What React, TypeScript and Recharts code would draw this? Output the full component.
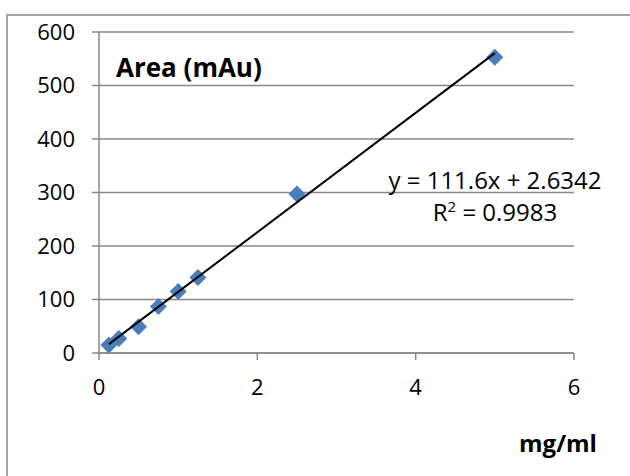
import React from 'react';
import { ScatterChart, Scatter, XAxis, YAxis, CartesianGrid } from 'recharts';

// concentration (mg/ml) and peak area (mAu)
const concentrations = [0.125, 0.25, 0.5, 0.75, 1, 1.25, 2.5, 5];
const areas = [15, 27, 49, 87, 115, 141, 297, 553];

// linear trend line endpoints, y = 111.6x + 2.6342
const trendX = [0.125, 5];
const trendY = [16.6, 560.6];

const xTicks = [0, 2, 4, 6];
const yTicks = [0, 100, 200, 300, 400, 500, 600];

const points = concentrations.map((x, i) => ({ x, y: areas[i] }));
const trend = trendX.map((x, i) => ({ x, y: trendY[i] }));

const FONT = '"Open Sans", sans-serif';

const Diamond = (props: any) => {
  const { cx, cy } = props;
  const r = 8.5;
  return (
    <polygon
      points={`${cx},${cy - r} ${cx + r},${cy} ${cx},${cy + r} ${cx - r},${cy}`}
      fill="#4a7ebb"
    />
  );
};

export default function App() {
  return (
    <div style={{ position: 'absolute', left: 0, top: 0, width: 630, height: 476, overflow: 'hidden', background: '#fff', fontFamily: FONT }}>
      <div style={{ position: 'absolute', left: 6, top: 14, width: 700, height: 600, border: '2px solid #a6a6a6', boxSizing: 'border-box' }} />
      <div style={{ position: 'absolute', left: 0, top: 0 }}>
        <ScatterChart width={630} height={476} margin={{ top: 32, right: 56, bottom: 83, left: 0 }}>
          <CartesianGrid horizontal vertical={false} stroke="#888" strokeWidth={1.5} />
          <XAxis
            type="number"
            dataKey="x"
            domain={[0, 6]}
            ticks={xTicks}
            height={40}
            stroke="#888"
            strokeWidth={1.5}
            tickSize={7}
            tickMargin={19}
            tick={{ fill: '#000', fontSize: 22, fontFamily: FONT }}
          />
          <YAxis
            type="number"
            dataKey="y"
            domain={[0, 600]}
            ticks={yTicks}
            width={99}
            stroke="#888"
            strokeWidth={1.5}
            tickSize={7}
            tickMargin={17}
            tick={{ fill: '#000', fontSize: 22, fontFamily: FONT }}
          />
          <Scatter data={points} shape={<Diamond />} isAnimationActive={false} />
          <Scatter
            data={trend}
            line={{ stroke: '#000', strokeWidth: 2 }}
            shape={() => null}
            isAnimationActive={false}
          />
        </ScatterChart>
      </div>
      <div style={{ position: 'absolute', left: 116, top: 50, fontSize: 26, fontWeight: 700, lineHeight: '34px' }}>Area (mAu)</div>
      <div style={{ position: 'absolute', left: 519, top: 426, fontSize: 24, fontWeight: 700, lineHeight: '34px' }}>mg/ml</div>
      <div style={{ position: 'absolute', left: 375, top: 164, width: 240, textAlign: 'center', fontSize: 24, lineHeight: '32px' }}>
        <div>y = 111.6x + 2.6342</div>
        <div>R<sup style={{ fontSize: 15, verticalAlign: 'super', lineHeight: 0 }}>2</sup> = 0.9983</div>
      </div>
    </div>
  );
}
